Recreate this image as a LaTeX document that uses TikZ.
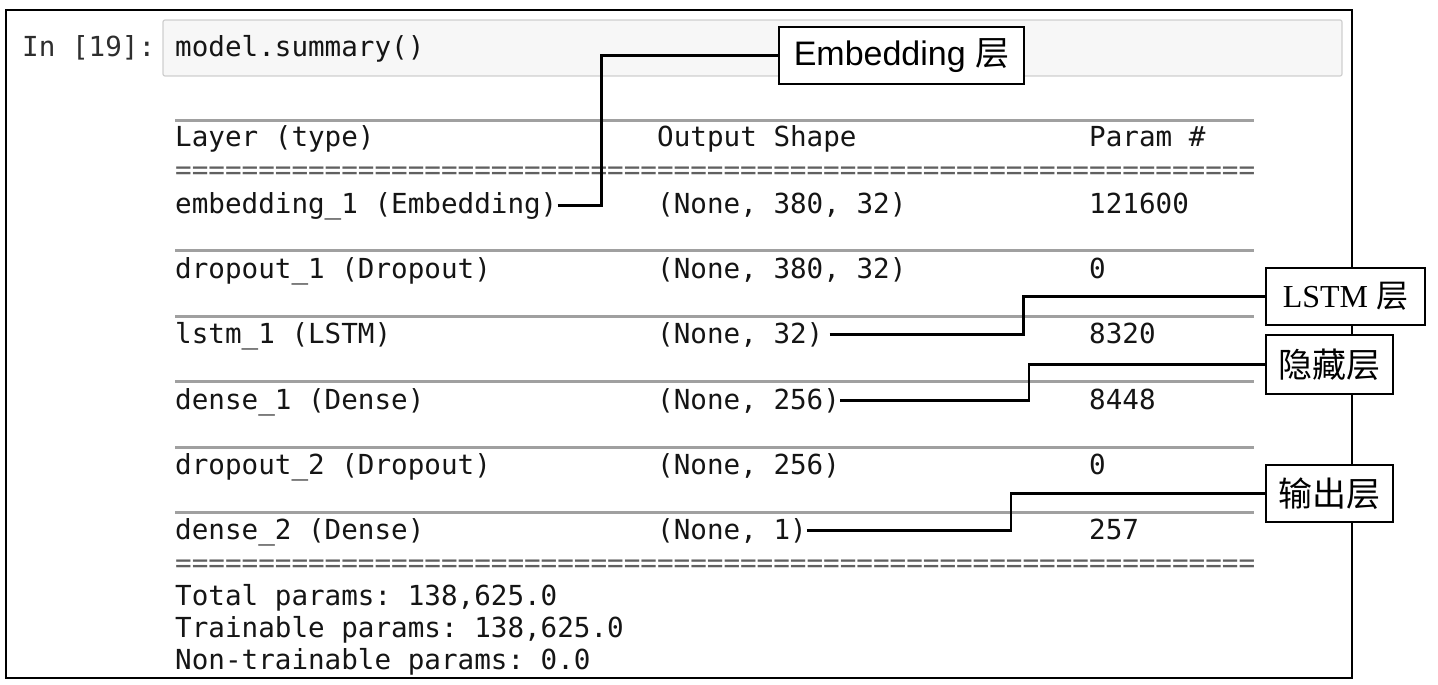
\documentclass[tikz,border=0pt]{standalone}
\usepackage{fontspec}
\newfontfamily\monof{DejaVu Sans Mono}
\newfontfamily\cjkf{Noto Sans CJK SC}
\newfontfamily\lsans{Liberation Sans}
\newfontfamily\lserif{Liberation Serif}
\definecolor{codetext}{HTML}{151515}
\definecolor{prompt}{HTML}{2E2E2E}
\definecolor{rulegray}{HTML}{A0A0A0}
\definecolor{eqgray}{HTML}{606060}
\definecolor{cellfill}{HTML}{F7F7F7}
\definecolor{cellborder}{HTML}{CFCFCF}
\begin{document}
\begin{tikzpicture}[x=1pt,y=-1pt,
  code/.style={anchor=base west, inner sep=0pt, font=\monof\fontsize{27.6}{30}\selectfont\frenchspacing, text=codetext},
  tabrule/.style={draw=rulegray, line width=3pt},
  eqs/.style={code, text=eqgray},
  callout/.style={draw=black, line width=1.8pt, fill=white, inner sep=0pt, align=center},
  conn/.style={draw=black, line width=2.6pt}]
\useasboundingbox (0,0) rectangle (1438,685);
% outer frame
\draw[line width=1.2pt] (6,10) rectangle (1352,678);
% input cell
\draw[draw=cellborder, fill=cellfill, line width=1.2pt, rounded corners=2pt] (163,20) rectangle (1342,76);
\node[code, text=prompt] (prompt) at (22,57) {In [19]:};
\node[code] (cmd) at (175,57) {model.summary()};
% table rules
\draw[tabrule] (175,120) -- (1254,120);
\foreach \y in {250,316,381,447,512} {\draw[tabrule] (175,\y) -- (1254,\y);}
% header
\node[code] (h1) at (175,146) {Layer (type)};
\node[code] (h2) at (657,146) {Output Shape};
\node[code] (h3) at (1089,146) {Param \#};
\node[eqs] (eq1) at (175,179) {=================================================================};
% rows
\node[code] (r1a) at (175,213) {embedding\_1 (Embedding)};
\node[code] (r1b) at (657,213) {(None, 380, 32)};
\node[code] (r1c) at (1089,213) {121600};
\node[code] (r2a) at (175,278) {dropout\_1 (Dropout)};
\node[code] (r2b) at (657,278) {(None, 380, 32)};
\node[code] (r2c) at (1089,278) {0};
\node[code] (r3a) at (175,343) {lstm\_1 (LSTM)};
\node[code] (r3b) at (657,343) {(None, 32)};
\node[code] (r3c) at (1089,343) {8320};
\node[code] (r4a) at (175,409) {dense\_1 (Dense)};
\node[code] (r4b) at (657,409) {(None, 256)};
\node[code] (r4c) at (1089,409) {8448};
\node[code] (r5a) at (175,474) {dropout\_2 (Dropout)};
\node[code] (r5b) at (657,474) {(None, 256)};
\node[code] (r5c) at (1089,474) {0};
\node[code] (r6a) at (175,539) {dense\_2 (Dense)};
\node[code] (r6b) at (657,539) {(None, 1)};
\node[code] (r6c) at (1089,539) {257};
\node[eqs] (eq2) at (175,572) {=================================================================};
\node[code] (t1) at (175,605) {Total params: 138,625.0};
\node[code] (t2) at (175,637) {Trainable params: 138,625.0};
\node[code] (t3) at (175,669) {Non-trainable params: 0.0};
% callouts
\node[callout, minimum width=245pt, minimum height=57pt] (cEmb) at (901.5,55.5)
  {\lsans\fontsize{34}{36}\selectfont Embedding \cjkf 层};
\node[callout, minimum width=159pt, minimum height=57pt] (cLstm) at (1345.5,296.5)
  {\lserif\fontsize{32}{34}\selectfont LSTM \cjkf 层};
\node[callout, minimum width=127pt, minimum height=59pt] (cHid) at (1329.5,364.5)
  {\cjkf\fontsize{34}{36}\selectfont 隐藏层};
\node[callout, minimum width=127pt, minimum height=57pt] (cOut) at (1329.5,493.5)
  {\cjkf\fontsize{34}{36}\selectfont 输出层};
% connectors
\draw[conn] (r1a.east) -- ++(44,0) |- (cEmb.west);
\draw[conn] ([xshift=6pt]r3b.east) -- ++(194,0) |- (cLstm.west);
\draw[conn] (r4b.east) -- ++(189,0) |- (cHid.west);
\draw[conn] (r6b.east) -- ++(204,0) |- (cOut.west);
\end{tikzpicture}
\end{document}
